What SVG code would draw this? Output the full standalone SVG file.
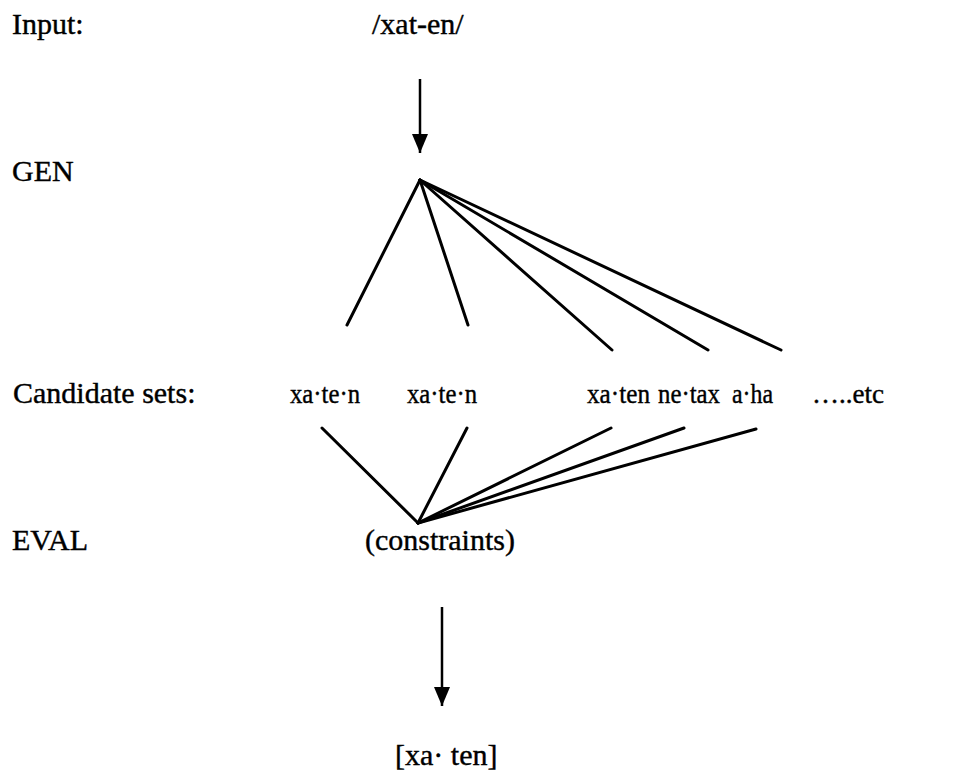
<svg xmlns="http://www.w3.org/2000/svg" width="962" height="782" viewBox="0 0 962 782">
<style>
text{font-family:"Liberation Serif","Times New Roman",serif;font-size:30px;fill:#000;stroke:#000;stroke-width:0.4}
.c{font-size:27px}
.ln{stroke:#000;stroke-width:3;fill:none;stroke-linecap:round}
.ar{stroke:#000;stroke-width:2.5;fill:none}
</style>
<defs>
<marker id="ah" viewBox="0 0 19 16" refX="19" refY="8" markerWidth="19" markerHeight="16" markerUnits="userSpaceOnUse" orient="auto">
<path d="M0 0L19 8L0 16Z" fill="#000"/>
</marker>
</defs>
<rect width="962" height="782" fill="#fff"/>
<g id="labels">
<text x="12" y="34">Input:</text>
<text x="12" y="181">GEN</text>
<text x="13" y="403">Candidate sets:</text>
<text x="12" y="550">EVAL</text>
</g>
<g id="input"><text x="372" y="34">/xat-en/</text></g>
<g id="cand1"><text class="c" x="290" y="403" textLength="70" lengthAdjust="spacingAndGlyphs">xa·te·n</text></g>
<g id="cand2"><text class="c" x="407" y="403" textLength="70" lengthAdjust="spacingAndGlyphs">xa·te·n</text></g>
<g id="cand3"><text class="c" x="587" y="403" textLength="63" lengthAdjust="spacingAndGlyphs">xa·ten</text></g>
<g id="cand4"><text class="c" x="658" y="403" textLength="62" lengthAdjust="spacingAndGlyphs">ne·tax</text></g>
<g id="cand5"><text class="c" x="732" y="403" textLength="41" lengthAdjust="spacingAndGlyphs">a·ha</text></g>
<g id="etc"><text class="c" x="812" y="403">…..etc</text></g>
<g id="eval"><text x="365" y="550">(constraints)</text></g>
<g id="output"><text x="395" y="765">[xa· ten]</text></g>
<g id="connectors">
<line class="ar" x1="420" y1="79" x2="420" y2="153" marker-end="url(#ah)"/>
<line class="ln" x1="420" y1="180" x2="347" y2="325"/>
<line class="ln" x1="420" y1="180" x2="468" y2="325"/>
<line class="ln" x1="420" y1="180" x2="612" y2="350"/>
<line class="ln" x1="420" y1="180" x2="708" y2="350"/>
<line class="ln" x1="420" y1="180" x2="781" y2="350"/>
<line class="ln" x1="322" y1="428" x2="418" y2="523"/>
<line class="ln" x1="467" y1="428" x2="418" y2="523"/>
<line class="ln" x1="611" y1="428" x2="418" y2="523"/>
<line class="ln" x1="684" y1="428" x2="418" y2="523"/>
<line class="ln" x1="756" y1="429" x2="418" y2="523"/>
<line class="ar" x1="442" y1="607" x2="442" y2="706" marker-end="url(#ah)"/>
</g>
</svg>
